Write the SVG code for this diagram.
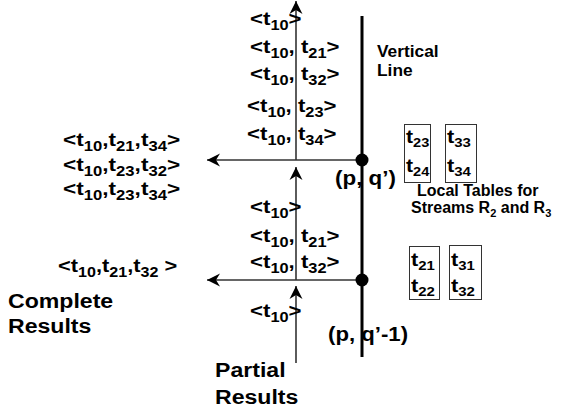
<svg xmlns="http://www.w3.org/2000/svg" width="562" height="415" viewBox="0 0 562 415">
<defs>
<style>
text { font-family: "Liberation Sans", Arial, Helvetica, sans-serif; font-weight: bold; fill: #000; }
.tu { font-size: 19px; }
.bx { font-size: 19px; }
.s { font-size: 14px; }
.sb { font-size: 13px; }
.lb { font-size: 21px; }
.pq { font-size: 20px; }
.sm { font-size: 16px; }
.s2 { font-size: 11px; }
.thin { stroke: #333; stroke-width: 1.6; fill: none; }
.thick { stroke: #000; stroke-width: 3; fill: none; }
.box { fill: none; stroke: #333; stroke-width: 1; }
</style>
<marker id="ah" markerUnits="userSpaceOnUse" markerWidth="14" markerHeight="14" viewBox="0 -7 14 14" refX="13" refY="0" orient="auto">
<path d="M13,0 L0,-6.5 L4,0 L0,6.5 Z" fill="#000"/>
</marker>
</defs>

<g id="connectors">
<line class="thick" x1="362" y1="16" x2="362" y2="357"/>
<line class="thin" x1="296" y1="160" x2="296" y2="1" marker-end="url(#ah)"/>
<line class="thin" x1="296" y1="280" x2="296" y2="167" marker-end="url(#ah)"/>
<line class="thin" x1="296" y1="363" x2="296" y2="286" marker-end="url(#ah)"/>
<line class="thin" x1="362" y1="160" x2="207" y2="160" marker-end="url(#ah)"/>
<line class="thin" x1="362" y1="280" x2="207" y2="280" marker-end="url(#ah)"/>
<circle cx="362" cy="160" r="6.5" fill="#000"/>
<circle cx="362" cy="280" r="6.5" fill="#000"/>
</g>

<g id="upper-stack">
<text class="tu" transform="translate(250,25) scale(1.17,1)">&lt;t<tspan class="s" dy="5">10</tspan><tspan dy="-5">&gt;</tspan></text>
<text class="tu" transform="translate(250,53) scale(1.17,1)">&lt;t<tspan class="s" dy="5">10</tspan><tspan dy="-5">, t</tspan><tspan class="s" dy="5">21</tspan><tspan dy="-5">&gt;</tspan></text>
<text class="tu" transform="translate(250,80) scale(1.17,1)">&lt;t<tspan class="s" dy="5">10</tspan><tspan dy="-5">, t</tspan><tspan class="s" dy="5">32</tspan><tspan dy="-5">&gt;</tspan></text>
<text class="tu" transform="translate(247,112) scale(1.17,1)">&lt;t<tspan class="s" dy="5">10</tspan><tspan dy="-5">, t</tspan><tspan class="s" dy="5">23</tspan><tspan dy="-5">&gt;</tspan></text>
<text class="tu" transform="translate(247,140) scale(1.17,1)">&lt;t<tspan class="s" dy="5">10</tspan><tspan dy="-5">, t</tspan><tspan class="s" dy="5">34</tspan><tspan dy="-5">&gt;</tspan></text>
</g>

<g id="upper-complete">
<text class="tu" transform="translate(63,146) scale(1.19,1)">&lt;t<tspan class="s" dy="5">10</tspan><tspan dy="-5">,t</tspan><tspan class="s" dy="5">21</tspan><tspan dy="-5">,t</tspan><tspan class="s" dy="5">34</tspan><tspan dy="-5">&gt;</tspan></text>
<text class="tu" transform="translate(63,170.5) scale(1.19,1)">&lt;t<tspan class="s" dy="5">10</tspan><tspan dy="-5">,t</tspan><tspan class="s" dy="5">23</tspan><tspan dy="-5">,t</tspan><tspan class="s" dy="5">32</tspan><tspan dy="-5">&gt;</tspan></text>
<text class="tu" transform="translate(63,195) scale(1.19,1)">&lt;t<tspan class="s" dy="5">10</tspan><tspan dy="-5">,t</tspan><tspan class="s" dy="5">23</tspan><tspan dy="-5">,t</tspan><tspan class="s" dy="5">34</tspan><tspan dy="-5">&gt;</tspan></text>
</g>

<g id="lower-stack">
<text class="tu" transform="translate(250,213) scale(1.17,1)">&lt;t<tspan class="s" dy="5">10</tspan><tspan dy="-5">&gt;</tspan></text>
<text class="tu" transform="translate(250,241.5) scale(1.17,1)">&lt;t<tspan class="s" dy="5">10</tspan><tspan dy="-5">, t</tspan><tspan class="s" dy="5">21</tspan><tspan dy="-5">&gt;</tspan></text>
<text class="tu" transform="translate(250,268) scale(1.17,1)">&lt;t<tspan class="s" dy="5">10</tspan><tspan dy="-5">, t</tspan><tspan class="s" dy="5">32</tspan><tspan dy="-5">&gt;</tspan></text>
</g>

<g id="lower-partial">
<text class="tu" transform="translate(250,317) scale(1.17,1)">&lt;t<tspan class="s" dy="5">10</tspan><tspan dy="-5">&gt;</tspan></text>
</g>

<g id="lower-complete">
<text class="tu" transform="translate(58,272) scale(1.15,1)">&lt;t<tspan class="s" dy="5">10</tspan><tspan dy="-5">,t</tspan><tspan class="s" dy="5">21</tspan><tspan dy="-5">,t</tspan><tspan class="s" dy="5">32</tspan><tspan dy="-5"> &gt;</tspan></text>
</g>

<g id="label-complete">
<text class="lb" transform="translate(8,308) scale(1.1,1)">Complete</text>
<text class="lb" transform="translate(8,333) scale(1.1,1)">Results</text>
</g>

<g id="label-partial">
<text class="lb" transform="translate(215,377) scale(1.1,1)">Partial</text>
<text class="lb" transform="translate(215,404) scale(1.1,1)">Results</text>
</g>

<g id="label-vertical">
<text class="sm" transform="translate(377,57) scale(1.05,1)" style="font-size:16.5px">Vertical</text>
<text class="sm" transform="translate(377,76) scale(1.05,1)" style="font-size:16.5px">Line</text>
</g>

<g id="label-pq">
<text class="pq" transform="translate(335,185) scale(1.12,1)">(p, q’)</text>
</g>

<g id="label-pq1">
<text class="pq" transform="translate(328,341) scale(1.11,1)">(p, q’-1)</text>
</g>

<g id="label-local">
<text class="sm" x="417" y="196">Local Tables for</text>
<text class="sm" x="411" y="213">Streams R<tspan class="s2" dy="4">2</tspan><tspan dy="-4"> and R</tspan><tspan class="s2" dy="4">3</tspan></text>
</g>

<g id="table-r2-upper">
<rect class="box" x="404.5" y="124.5" width="26" height="58"/>
<text class="bx" transform="translate(406,143) scale(1.12,1)">t<tspan class="sb" dy="4">23</tspan></text>
<text class="bx" transform="translate(406,172) scale(1.12,1)">t<tspan class="sb" dy="4">24</tspan></text>
</g>

<g id="table-r3-upper">
<rect class="box" x="445.5" y="124.5" width="31" height="58"/>
<text class="bx" transform="translate(447,143) scale(1.15,1)">t<tspan class="sb" dy="4">33</tspan></text>
<text class="bx" transform="translate(447,172) scale(1.15,1)">t<tspan class="sb" dy="4">34</tspan></text>
</g>

<g id="table-r2-lower">
<rect class="box" x="409.5" y="246.5" width="30" height="53"/>
<text class="bx" transform="translate(411,266) scale(1.15,1)">t<tspan class="sb" dy="4">21</tspan></text>
<text class="bx" transform="translate(411,292) scale(1.15,1)">t<tspan class="sb" dy="4">22</tspan></text>
</g>

<g id="table-r3-lower">
<rect class="box" x="449.5" y="245.5" width="32" height="54"/>
<text class="bx" transform="translate(451,266) scale(1.15,1)">t<tspan class="sb" dy="4">31</tspan></text>
<text class="bx" transform="translate(451,292) scale(1.15,1)">t<tspan class="sb" dy="4">32</tspan></text>
</g>
</svg>
